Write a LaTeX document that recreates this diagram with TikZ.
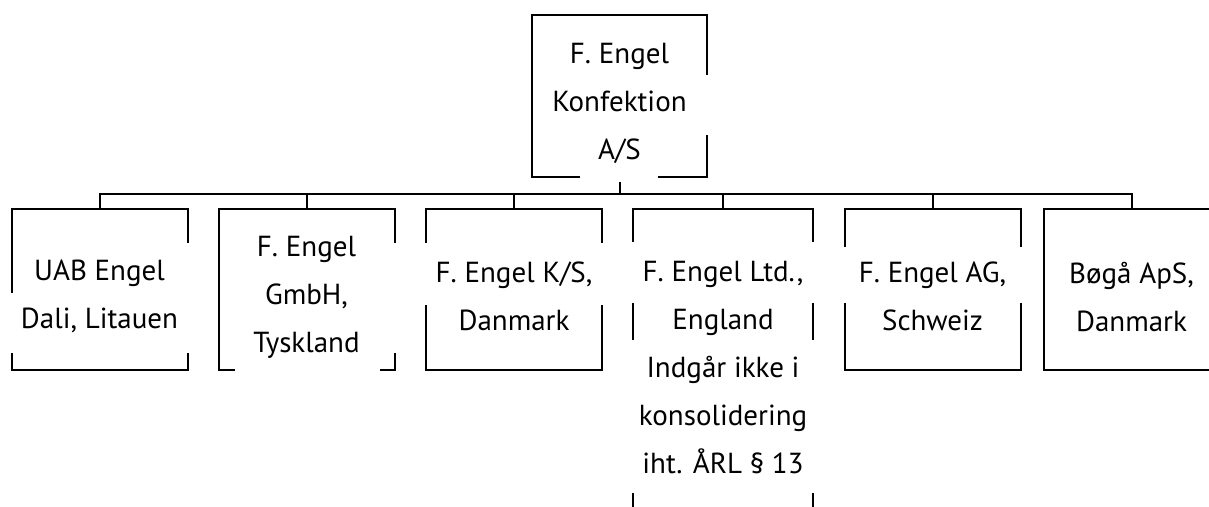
\documentclass[tikz,border=0pt]{standalone}
\usepackage{fontspec}
\setmainfont{PT Sans}
\newcommand{\gapv}[3]{\fill[white] ({#1-3},#2) rectangle ({#1+3},#3);}
\newcommand{\gaph}[3]{\fill[white] (#2,{#1-4}) rectangle (#3,{#1+5});}
\begin{document}
\begin{tikzpicture}[x=1pt,y=-1pt,
        box/.style={draw,line width=2pt,minimum width=176pt,minimum height=161pt,inner sep=0pt},
        txt/.style={align=center,inner sep=0pt,font=\fontsize{29}{48}\selectfont},
        link/.style={line width=2pt}]
    \useasboundingbox (0,0) rectangle (1209,506);
    % Parent company
    \node[box,minimum width=175pt,minimum height=162pt] (top) at (619.5,96) {};
    % Subsidiaries
    \foreach \n/\x in {c1/99.5,c2/306.5,c3/514,c5/932.5,c6/1131.5}
        \node[box] (\n) at (\x,289.5) {};
    \node[box,minimum width=180pt,minimum height=331pt] (c4) at (723,374.5) {};
    % Connectors
    \foreach \n in {c1,c2,c3,c4,c5,c6}
        \draw[link] (top.south) -- ++(0,16) -| (\n.north);
    % Gaps in the frames
    \gapv{707}{75}{135}
    \gaph{177}{580}{658}
    \gapv{12}{293}{353}
    \gapv{187}{243}{353}
    \gapv{395}{243}{353}
    \gaph{370}{235}{380}
    \gapv{426}{243}{305}
    \gapv{602}{243}{305}
    \foreach \x in {633,813} {
        \gapv{\x}{242}{303}
        \gapv{\x}{340}{493}
    }
    \gapv{845}{247}{303}
    \gapv{1020}{247}{303}
    % Texts
    \node[txt] (ttop) at ([yshift=-7pt]top.center) {F. Engel\\Konfektion\\A/S};
    \node[txt] (t1) at ([yshift=-7pt]c1.center) {UAB Engel\\Dali, Litauen};
    \node[txt] (t2) at ([yshift=-8pt]c2.center) {F. Engel\\GmbH,\\Tyskland};
    \node[txt] (t3) at ([yshift=-7pt]c3.center) {F. Engel K/S,\\Danmark};
    \node[txt] (t4) at ([yshift=7pt]c4.center) {F. Engel Ltd.,\\England\\Indgår ikke i\\konsolidering\\iht. ÅRL § 13};
    \node[txt] (t5) at ([yshift=-7pt]c5.center) {F. Engel AG,\\Schweiz};
    \node[txt] (t6) at ([yshift=-7pt]c6.center) {Bøgå ApS,\\Danmark};
\end{tikzpicture}
\end{document}
